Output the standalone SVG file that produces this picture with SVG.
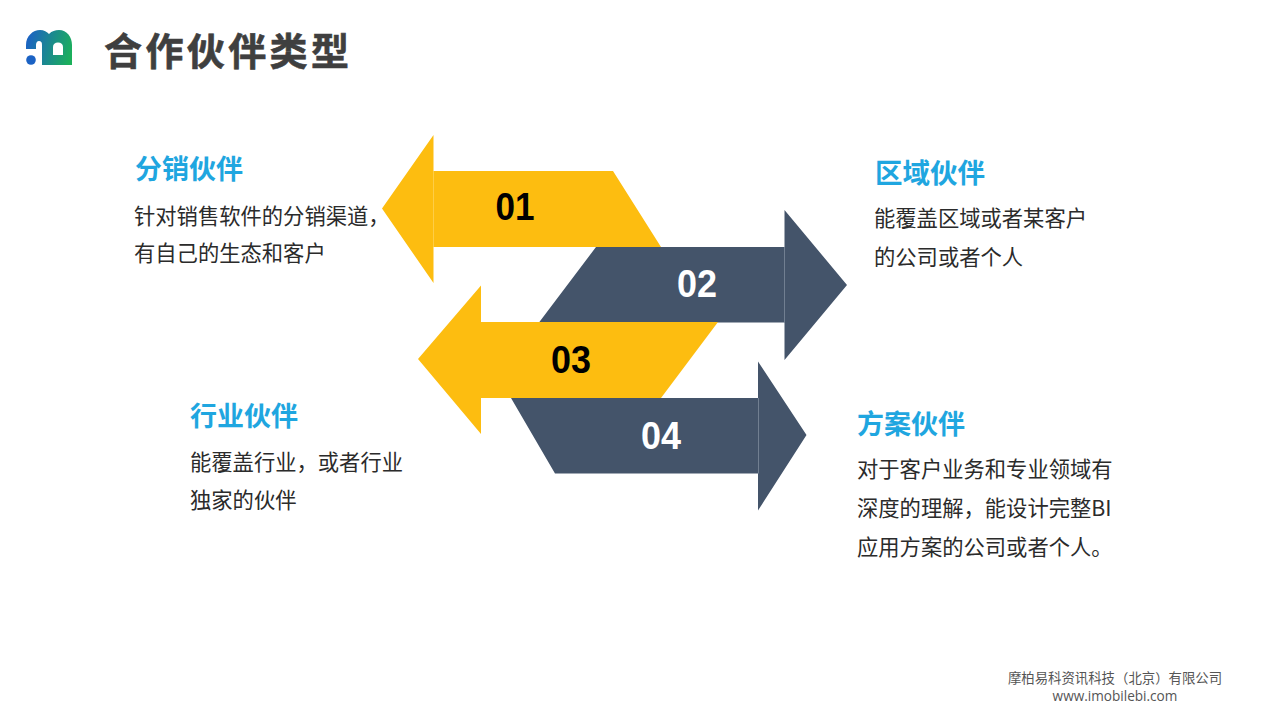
<svg xmlns="http://www.w3.org/2000/svg" width="1280" height="720" viewBox="0 0 1280 720">
<defs>
<linearGradient id="logoGrad" gradientUnits="userSpaceOnUse" x1="26" y1="42" x2="72" y2="54"><stop offset="0" stop-color="#1b62c4"/><stop offset="1" stop-color="#1bb05a"/></linearGradient>
</defs>
<style>
text{font-family:"Noto Sans CJK SC","Noto Sans",sans-serif}
.yellow{fill:#fdbd10}
.slate{fill:#44546a}
.seam{stroke-width:1;stroke-opacity:.45}
.num{font-family:"Liberation Sans",Arial,sans-serif;font-weight:700;font-size:38px;text-anchor:middle}
.head{fill:#1fa6e0;font-weight:700;font-size:27px}
.body{fill:#2b2b2b;font-size:21.3px}
.foot{fill:#555;font-size:13.400px;text-anchor:middle}
.url{font-family:"Open Sans","Noto Sans",sans-serif;font-size:13.600px}
</style>
<rect width="1280" height="720" fill="#fff"/>
<g id="logo">
<path fill="url(#logoGrad)" fill-rule="evenodd" d="M26 49V45C26 36 33 30 40 30C44 30 47 32 49 34C52 31 55 30 59 30C67 30 72 37 72 45V65H42V45C42 42 41 41 39 41C37 41 36 43 36 45V49ZM53 55H63V47C63 44 61 42.500 58 42.500C55 42.500 53 44 53 47Z"/>
<circle cx="31" cy="60" r="4.800" fill="#1b62c4"/>
</g>
<text id="title" x="104" y="65" font-size="38" font-weight="700" fill="#3f3f3f" stroke="#3f3f3f" stroke-width=".6" textLength="245">合作伙伴类型</text>
<g id="arrow-01">
<polygon class="yellow" points="382,208.500 433.500,135 433.500,171 613,171 661,247 433.500,247 433.500,283"/>
<line class="seam" x1="433.500" y1="171" x2="433.500" y2="247" stroke="#ffe08a"/>
<text class="num" x="515" y="220" fill="#000" textLength="39" lengthAdjust="spacingAndGlyphs">01</text>
</g>
<g id="arrow-02">
<polygon class="slate" points="847,285 784.500,210 784.500,247 596,247 539,322.500 784.500,322.500 784.500,360"/>
<line class="seam" x1="784.500" y1="247" x2="784.500" y2="322.500" stroke="#a9b4c2"/>
<text class="num" x="697" y="297" fill="#fff" textLength="40" lengthAdjust="spacingAndGlyphs">02</text>
</g>
<g id="arrow-03">
<polygon class="yellow" points="418,359 481,285.500 481,322 718,322 661,398 481,398 481,434"/>
<text class="num" x="571" y="373" fill="#000" textLength="40" lengthAdjust="spacingAndGlyphs">03</text>
</g>
<g id="arrow-04">
<polygon class="slate" points="806.500,435 758,361.500 758,398 511,398 555,473.500 758,473.500 758,510.500"/>
<line class="seam" x1="758.500" y1="398" x2="758.500" y2="473.500" stroke="#a9b4c2"/>
<text class="num" x="661" y="449" fill="#fff" textLength="40" lengthAdjust="spacingAndGlyphs">04</text>
</g>
<g id="partner-distribution">
<text class="head" x="135" y="179">分销伙伴</text>
<text class="body" x="134" y="224">针对销售软件的分销渠道&#xFF0C;</text>
<text class="body" x="134" y="261">有自己的生态和客户</text>
</g>
<g id="partner-region">
<text class="head" x="875" y="183" style="font-size:27.500px">区域伙伴</text>
<text class="body" x="874" y="226">能覆盖区域或者某客户</text>
<text class="body" x="874" y="265">的公司或者个人</text>
</g>
<g id="partner-industry">
<text class="head" x="190" y="426">行业伙伴</text>
<text class="body" x="190" y="470">能覆盖行业&#xFF0C;或者行业</text>
<text class="body" x="190" y="508">独家的伙伴</text>
</g>
<g id="partner-solution">
<text class="head" x="857" y="434">方案伙伴</text>
<text class="body" x="857" y="477">对于客户业务和专业领域有</text>
<text class="body" x="857" y="516">深度的理解&#xFF0C;能设计完整BI</text>
<text class="body" x="857" y="555">应用方案的公司或者个人。</text>
</g>
<g id="footer">
<text class="foot" x="1115" y="683">摩柏易科资讯科技&#xFF08;北京&#xFF09;有限公司</text>
<text class="foot url" x="1115" y="701">www.imobilebi.com</text>
</g>
</svg>
